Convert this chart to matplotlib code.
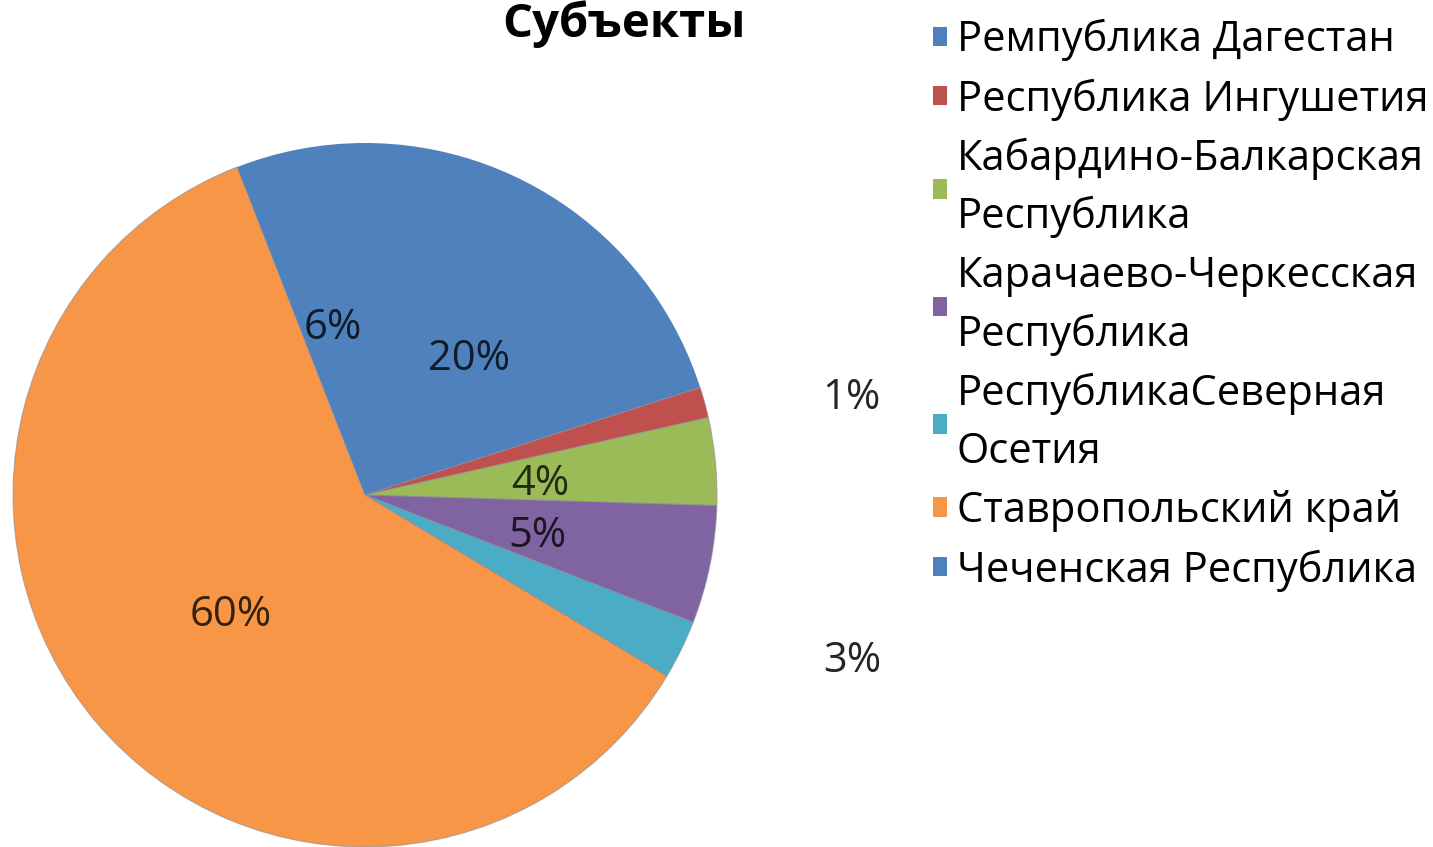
import matplotlib
matplotlib.use("Agg")
import matplotlib.pyplot as plt
import matplotlib.transforms as mtransforms
import numpy as np
from matplotlib.colors import to_rgb

plt.rcParams['font.family'] = ['Open Sans', 'DejaVu Sans']

title = "Субъекты"
categories = ["Ремпублика Дагестан", "Республика Ингушетия",
              "Кабардино-Балкарская\nРеспублика", "Карачаево-Черкесская\nРеспублика",
              "РеспубликаСеверная\nОсетия", "Ставропольский край", "Чеченская Республика"]
values = [20.0, 1.4, 4.0, 5.4, 2.7, 60.3, 5.9]
colors = ["#4F81BD", "#C0504D", "#9BBB59", "#8064A2", "#4BACC6", "#F79646", "#4F81BD"]
outside = [False, True, False, False, True, False, False]
outside_pos = {1: (1.383, 0.293), 4: (1.383, -0.455)}

W, H = 1433, 847
fig = plt.figure(figsize=(W / 100, H / 100), dpi=100)
cx, cy, r = 365, 495, 352
ax = fig.add_axes([(cx - r) / W, (H - cy - r) / H, 2 * r / W, 2 * r / H])
ax.set_aspect('equal')
ax.axis('off')

total = sum(values)
wedges, _ = ax.pie(values, colors=colors, startangle=90, counterclock=False,
                   radius=1, center=(0, 0), frame=False,
                   wedgeprops=dict(edgecolor=(0.55, 0.55, 0.6, 0.6), linewidth=0.8))
ax.set_xlim(-1, 1)
ax.set_ylim(-1, 1)
# the two blue slices merge visually (no separating line)
wedges[0].set_edgecolor('none')
wedges[-1].set_edgecolor('none')

fs = 30
trans = mtransforms.offset_copy(ax.transData, fig=fig, y=-6, units='dots')
for i, (w, v) in enumerate(zip(wedges, values)):
    lab = f"{round(v / total * 100)}%"
    if outside[i]:
        x, y = outside_pos[i]
        col = "#262626"
    else:
        ang = np.deg2rad((w.theta1 + w.theta2) / 2)
        x, y = 0.5 * np.cos(ang), 0.5 * np.sin(ang)
        col = tuple(c * 0.22 for c in to_rgb(colors[i]))
    ax.text(x, y, lab, ha='center', va='center', fontsize=fs, color=col,
            clip_on=False, transform=trans)

fig.text(624 / W, 1 - 24 / H, title, ha='center', va='center', fontsize=34, fontweight='bold')

lfs = 30
leg = fig.legend(wedges, categories, loc='upper left', bbox_to_anchor=(933 / W, 1 - 19 / H),
                 frameon=False, fontsize=lfs, handlelength=0.34, handleheight=0.34,
                 handletextpad=0.23, labelspacing=0.41, borderaxespad=0, borderpad=0)
for t in leg.get_texts():
    t.set_linespacing(1.5)
for h in leg.legend_handles:
    h.set_edgecolor('none')

fig.savefig("out.png", dpi=100)
